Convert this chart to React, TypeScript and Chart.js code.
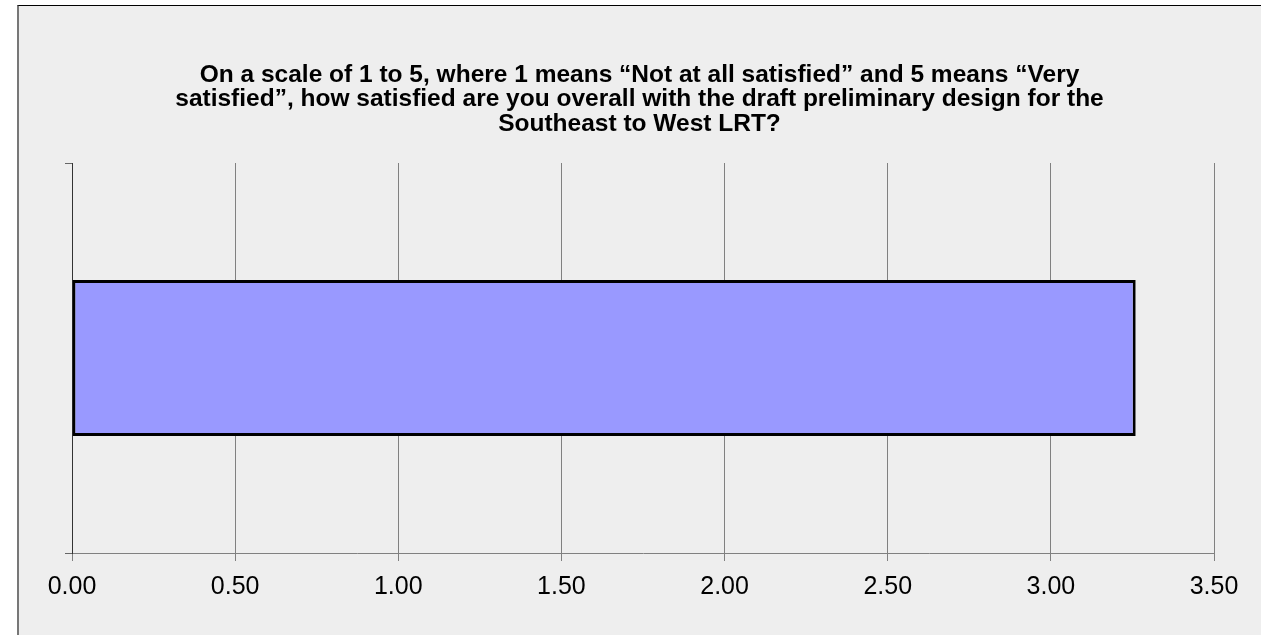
import React, { useEffect, useRef } from "react";
import { Chart, registerables } from "chart.js";

Chart.register(...registerables);

const titleLines = [
  "On a scale of 1 to 5, where 1 means \u201cNot at all satisfied\u201d and 5 means \u201cVery",
  "satisfied\u201d, how satisfied are you overall with the draft preliminary design for the",
  "Southeast to West LRT?",
];
const categories = ["Overall satisfaction"];
const averageScores = [3.26];
const axisMin = 0;
const axisMax = 3.5;
const axisStep = 0.5;

export default function App() {
  const ref = useRef<HTMLCanvasElement | null>(null);
  useEffect(() => {
    if (!ref.current) return;
    const chart = new Chart(ref.current, {
      type: "bar",
      data: {
        labels: categories,
        datasets: [
          {
            label: "Average",
            data: averageScores,
            backgroundColor: "#9999ff",
            borderColor: "#000000",
            borderWidth: 3,
            borderSkipped: false,
            categoryPercentage: 0.8,
            barPercentage: 0.5,
          },
        ],
      },
      options: {
        indexAxis: "y",
        animation: false,
        responsive: true,
        maintainAspectRatio: false,
        layout: { padding: { left: 65, right: 47, top: 50, bottom: 22 } },
        plugins: {
          legend: { display: false },
          tooltip: { enabled: false },
          title: {
            display: true,
            text: titleLines,
            color: "#000",
            font: { family: "'Liberation Sans', Arial, sans-serif", size: 24.5, weight: "bold", lineHeight: 1 },
            padding: { top: 12.75, bottom: 26.75 },
          },
        },
        scales: {
          x: {
            min: axisMin,
            max: axisMax,
            ticks: {
              stepSize: axisStep,
              color: "#000",
              padding: 11,
              font: { family: "'Liberation Sans', Arial, sans-serif", size: 25 },
              callback: (v: any) => Number(v).toFixed(2),
            },
            grid: { color: "#808080", lineWidth: 1, tickLength: 8, drawOnChartArea: true },
            border: { color: "#808080", width: 1 },
          },
          y: {
            ticks: { display: false },
            grid: { offset: true, drawOnChartArea: false, tickLength: 7, color: "#666" },
            border: { color: "#333", width: 1 },
          },
        },
      },
    });
    return () => chart.destroy();
  }, []);
  return (
    <div style={{ position: "fixed", left: 0, top: 0, width: 1261, height: 635, background: "#fff" }}>
      <div
        style={{
          position: "absolute",
          left: 17,
          top: 5,
          right: -10,
          bottom: -10,
          background: "#eeeeee",
          borderTop: "1px solid #000",
          borderLeft: "2px solid #777",
        }}
      />
      <div style={{ position: "absolute", left: 0, top: 0, width: 1261, height: 635 }}>
        <canvas ref={ref} />
      </div>
    </div>
  );
}
